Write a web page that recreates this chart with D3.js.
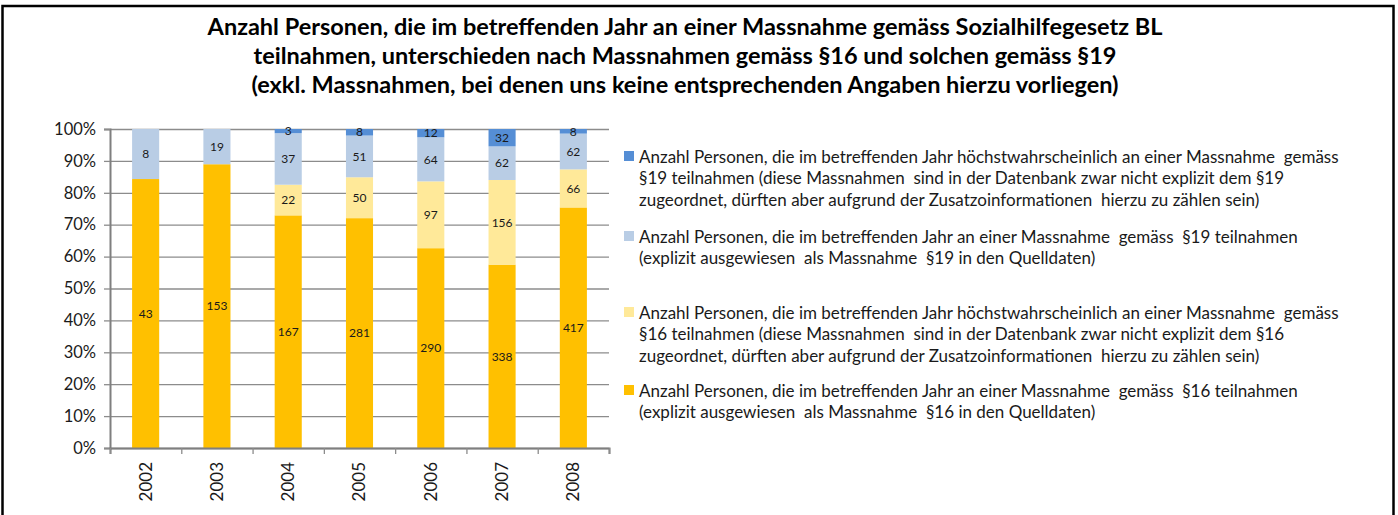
<!DOCTYPE html>
<html>
<head>
<meta charset="utf-8">
<script src="https://cdn.jsdelivr.net/npm/d3@7"></script>
<style>
  body { margin: 0; background: #fff; }
  text { font-family: Lato, "Open Sans", sans-serif; }
</style>
</head>
<body>
<svg width="1398" height="515"></svg>
<script>
var years = ["2002", "2003", "2004", "2005", "2006", "2007", "2008"];
var s16Explizit = [43, 153, 167, 281, 290, 338, 417];
var s16Wahrsch = [0, 0, 22, 50, 97, 156, 66];
var s19Explizit = [8, 19, 37, 51, 64, 62, 62];
var s19Wahrsch = [0, 0, 3, 8, 12, 32, 8];
var yTicks = [0, 0.1, 0.2, 0.3, 0.4, 0.5, 0.6, 0.7, 0.8, 0.9, 1];

var titleLines = [
  "Anzahl Personen, die im betreffenden Jahr an einer Massnahme gemäss Sozialhilfegesetz BL",
  "teilnahmen, unterschieden nach Massnahmen gemäss §16 und solchen gemäss §19",
  "(exkl. Massnahmen, bei denen uns keine entsprechenden Angaben hierzu vorliegen)"
];

// legend, top to bottom (reverse of stack order)
var legendItems = [
  { key: "s19Wahrsch", color: "#558ed5", lines: [
    "Anzahl Personen, die im betreffenden Jahr höchstwahrscheinlich an einer Massnahme  gemäss",
    "§19 teilnahmen (diese Massnahmen  sind in der Datenbank zwar nicht explizit dem §19",
    "zugeordnet, dürften aber aufgrund der Zusatzoinformationen  hierzu zu zählen sein)"] },
  { key: "s19Explizit", color: "#b9cde5", lines: [
    "Anzahl Personen, die im betreffenden Jahr an einer Massnahme  gemäss  §19 teilnahmen",
    "(explizit ausgewiesen  als Massnahme  §19 in den Quelldaten)"] },
  { key: "s16Wahrsch", color: "#ffe999", lines: [
    "Anzahl Personen, die im betreffenden Jahr höchstwahrscheinlich an einer Massnahme  gemäss",
    "§16 teilnahmen (diese Massnahmen  sind in der Datenbank zwar nicht explizit dem §16",
    "zugeordnet, dürften aber aufgrund der Zusatzoinformationen  hierzu zu zählen sein)"] },
  { key: "s16Explizit", color: "#ffc000", lines: [
    "Anzahl Personen, die im betreffenden Jahr an einer Massnahme  gemäss  §16 teilnahmen",
    "(explizit ausgewiesen  als Massnahme  §16 in den Quelldaten)"] }
];
var legendTop = [157, 237, 313, 391];

var keys = ["s16Explizit", "s16Wahrsch", "s19Explizit", "s19Wahrsch"];
var colors = { s16Explizit: "#ffc000", s16Wahrsch: "#ffe999", s19Explizit: "#b9cde5", s19Wahrsch: "#558ed5" };

var table = years.map(function (y, i) {
  return { year: y, s16Explizit: s16Explizit[i], s16Wahrsch: s16Wahrsch[i], s19Explizit: s19Explizit[i], s19Wahrsch: s19Wahrsch[i] };
});

var svg = d3.select("svg");

// outer frame
svg.append("rect")
  .attr("x", 2.5).attr("y", 6)
  .attr("width", 1391).attr("height", 600)
  .attr("fill", "none")
  .attr("stroke", "#000")
  .attr("stroke-width", 2.5);

// title
svg.append("g").selectAll("text")
  .data(titleLines)
  .enter().append("text")
  .attr("x", 685)
  .attr("y", function (d, i) { return 35 + i * 29; })
  .attr("text-anchor", "middle")
  .attr("font-size", 23.5)
  .attr("font-weight", "bold")
  .attr("fill", "#000")
  .text(function (d) { return d; });

var plotLeft = 110, plotRight = 609, plotTop = 129, plotBottom = 448;

var x = d3.scaleBand().domain(years).range([plotLeft, plotRight]).paddingInner(0.62).paddingOuter(0.31);
var y = d3.scaleLinear().domain([0, 1]).range([plotBottom, plotTop]);

// gridlines
svg.append("g")
  .attr("class", "grid")
  .attr("transform", "translate(" + plotLeft + ",0)")
  .call(d3.axisLeft(y).tickValues(yTicks).tickSize(-(plotRight - plotLeft)).tickFormat(""))
  .call(function (g) { g.select(".domain").remove(); })
  .selectAll("line")
  .attr("stroke", "#8c8c8c")
  .attr("stroke-width", 1.3);

// bars
var stacked = d3.stack().keys(keys).offset(d3.stackOffsetExpand)(table);

var layer = svg.append("g").selectAll("g")
  .data(stacked)
  .enter().append("g")
  .attr("fill", function (d) { return colors[d.key]; });

layer.selectAll("rect")
  .data(function (d) { return d; })
  .enter().append("rect")
  .attr("x", function (d) { return x(d.data.year); })
  .attr("y", function (d) { return y(d[1]); })
  .attr("width", x.bandwidth())
  .attr("height", function (d) { return y(d[0]) - y(d[1]); });

// value labels
layer.selectAll("text")
  .data(function (s) { return s.map(function (d) { return { d: d, v: d.data[s.key] }; }).filter(function (o) { return o.v > 0; }); })
  .enter().append("text")
  .attr("x", function (o) { return x(o.d.data.year) + x.bandwidth() / 2; })
  .attr("y", function (o) { return y((o.d[0] + o.d[1]) / 2); })
  .attr("dy", "0.35em")
  .attr("text-anchor", "middle")
  .attr("font-size", 12)
  .attr("fill", "#1a1a1a")
  .text(function (o) { return o.v; });

// y axis
var yAxis = svg.append("g")
  .attr("transform", "translate(" + plotLeft + ",0)")
  .call(d3.axisLeft(y).tickValues(yTicks).tickSize(6).tickPadding(8).tickFormat(d3.format(".0%")));
yAxis.selectAll("text").attr("font-size", 16.5).attr("fill", "#1a1a1a");
yAxis.selectAll("line").attr("stroke", "#8c8c8c").attr("stroke-width", 1.3);
yAxis.select(".domain").attr("stroke", "#7f7f7f").attr("stroke-width", 2);

// x axis: ticks between categories
var xb = d3.scaleLinear().domain([0, years.length]).range([plotLeft, plotRight]);
var xTickAxis = svg.append("g")
  .attr("transform", "translate(0," + plotBottom + ")")
  .call(d3.axisBottom(xb).ticks(years.length).tickSize(6).tickFormat(""));
xTickAxis.selectAll("line").attr("stroke", "#8c8c8c").attr("stroke-width", 1.3);
xTickAxis.select(".domain").attr("stroke", "#7f7f7f").attr("stroke-width", 2);

var xAxis = svg.append("g")
  .attr("transform", "translate(0," + plotBottom + ")")
  .call(d3.axisBottom(x).tickSize(0).tickPadding(0));
xAxis.select(".domain").remove();
xAxis.selectAll("text")
  .attr("font-size", 17)
  .attr("fill", "#1a1a1a")
  .attr("text-anchor", "end")
  .attr("transform", "rotate(-90)")
  .attr("x", -14)
  .attr("y", 0)
  .attr("dy", "0.35em");

// legend
var legend = svg.append("g").selectAll("g")
  .data(legendItems)
  .enter().append("g")
  .attr("transform", function (d, i) { return "translate(624," + legendTop[i] + ")"; });

legend.append("rect")
  .attr("x", 0).attr("y", -6)
  .attr("width", 10).attr("height", 10)
  .attr("fill", function (d) { return d.color; });

legend.selectAll("text")
  .data(function (d) { return d.lines; })
  .enter().append("text")
  .attr("x", 15)
  .attr("y", function (d, i) { return i * 21.5; })
  .attr("dy", "0.35em")
  .attr("font-size", 17)
  .attr("fill", "#1a1a1a")
  .style("white-space", "pre")
  .text(function (d) { return d; });
</script>
</body>
</html>
